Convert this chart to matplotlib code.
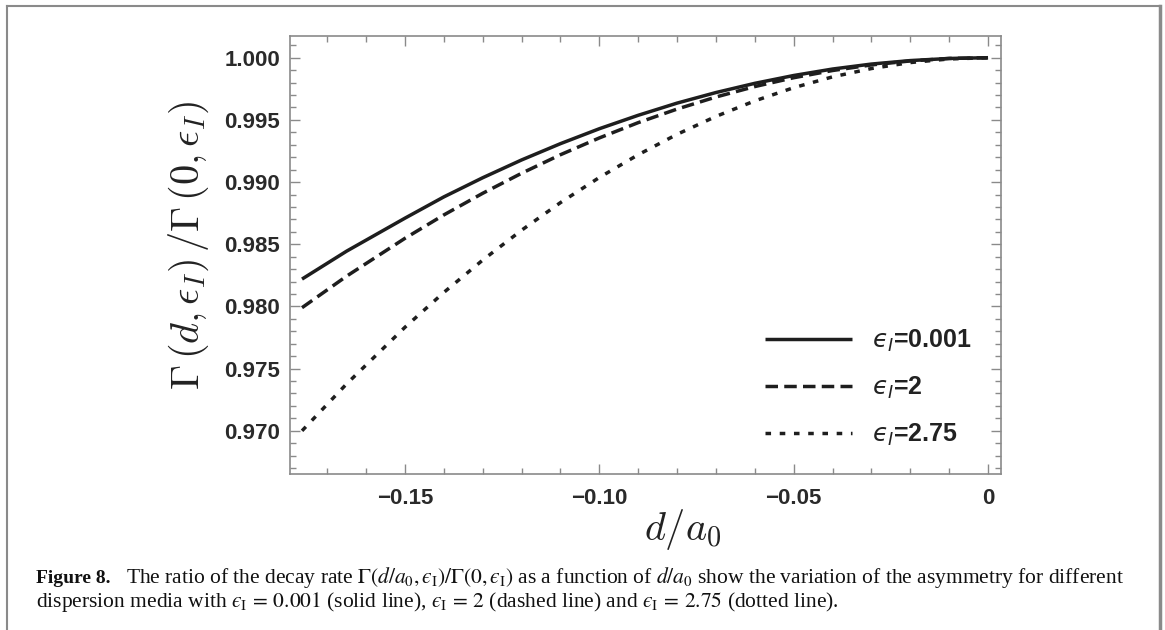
import numpy as np
import matplotlib
matplotlib.use("Agg")
import matplotlib.pyplot as plt
from matplotlib.ticker import MultipleLocator, FixedLocator, FuncFormatter, FormatStrFormatter
from matplotlib.lines import Line2D

# values
d_vals = [-0.1765, -0.165, -0.15, -0.14, -0.13, -0.12, -0.11, -0.10, -0.09,
          -0.08, -0.07, -0.06, -0.05, -0.04, -0.03, -0.02, -0.01, 0.0]
ratio_eps_0001 = [0.9822, 0.98445, 0.9871, 0.98881, 0.99035, 0.99178, 0.99309, 0.99429, 0.99537,
                  0.99635, 0.9972, 0.99794, 0.99857, 0.99909, 0.99949, 0.99977, 0.99994, 1.0]
ratio_eps_2 = [0.9799, 0.98244, 0.98548, 0.98736, 0.9891, 0.99071, 0.9922, 0.99355, 0.99478,
               0.99587, 0.99684, 0.99768, 0.99839, 0.99897, 0.99942, 0.99974, 0.99994, 1.0]
ratio_eps_275 = [0.9700, 0.97378, 0.97833, 0.98113, 0.98373, 0.98613, 0.98835, 0.99037, 0.9922,
                 0.99384, 0.99528, 0.99653, 0.99759, 0.99846, 0.99913, 0.99961, 0.9999, 1.0]
labels = ["$\\mathit{\u03f5}_I$=0.001", "$\\mathit{\u03f5}_I$=2", "$\\mathit{\u03f5}_I$=2.75"]
x_major = [-0.15, -0.10, -0.05, 0.0]

plt.rcParams["mathtext.fontset"] = "cm"
plt.rcParams["font.family"] = ["Liberation Sans", "DejaVu Sans"]

W, H = 1165, 630
fig = plt.figure(figsize=(W / 100, H / 100), dpi=100)
fig.patch.set_facecolor("white")

# axes box in pixels
L, R, T, B = 289.7, 1001.0, 35.7, 473.7
ax = fig.add_axes([L / W, 1 - B / H, (R - L) / W, (B - T) / H])

lc = "#1e1e1e"
lw = 2.5
ax.plot(d_vals, ratio_eps_0001, color=lc, lw=lw, ls="-", label=labels[0], solid_capstyle="butt")
ax.plot(d_vals, ratio_eps_2, color=lc, lw=lw, ls=(0, (3.6, 1.8)), label=labels[1], dash_capstyle="butt")
ax.plot(d_vals, ratio_eps_275, color=lc, lw=lw, ls=(0, (1.6, 2.5)), label=labels[2], dash_capstyle="butt")

ax.set_xlim(-0.17967, 0.00334)
ax.set_ylim(0.96655, 1.00177)

ax.xaxis.set_major_locator(FixedLocator(x_major))
ax.xaxis.set_minor_locator(MultipleLocator(0.01))
ax.yaxis.set_major_locator(MultipleLocator(0.005))
ax.yaxis.set_minor_locator(MultipleLocator(0.001))
ax.xaxis.set_major_formatter(FuncFormatter(lambda v, p: "0" if abs(v) < 1e-9 else ("%.2f" % v).replace("-", "\u2212")))
ax.yaxis.set_major_formatter(FormatStrFormatter("%.3f"))

for s in ax.spines.values():
    s.set_color("#8a8a8a")
    s.set_linewidth(1.2)
ax.tick_params(which="both", direction="in", top=True, right=True, color="#8a8a8a", width=1.0)
ax.tick_params(which="major", length=7)
ax.tick_params(which="minor", length=4)
ax.tick_params(axis="x", which="major", pad=10, labelsize=16, labelcolor="#2a2a2a")
ax.tick_params(axis="y", which="major", pad=7, labelsize=16, labelcolor="#2a2a2a")
for t in ax.get_xticklabels() + ax.get_yticklabels():
    t.set_fontweight("bold")

ax.set_ylabel(r"$\Gamma\,(d,\epsilon_I)\,/\Gamma\,(0,\epsilon_I)$", fontsize=29, color="#222222", va="center")
ax.yaxis.set_label_coords((189 - L) / (R - L), 1 - (245.6 - T) / (B - T))
ax.set_xlabel(r"$d/a_0$", fontsize=29, color="#222222", va="top")
ax.xaxis.set_label_coords((683 - L) / (R - L), -(507 - B) / (B - T))

leg = ax.legend(loc="upper left", bbox_to_anchor=(765 / W, 1 - 328 / H), bbox_transform=fig.transFigure,
                frameon=False, handlelength=3.5, handletextpad=0.8, labelspacing=0.82,
                borderpad=0, borderaxespad=0,
                prop={"size": 18, "weight": "bold", "math_fontfamily": "dejavusans"})
for t in leg.get_texts():
    t.set_color("#222222")

# caption
eps = "\u03f5_{\\rm I}"
cap_kw = dict(family="Liberation Serif", va="baseline", color="#111111")
fig.text(36 / W, 1 - 583 / H, "Figure 8.", fontsize=14, fontweight="bold", **cap_kw)
fig.text(126 / W, 1 - 583 / H,
         "The ratio of the decay rate $\\Gamma(d/a_0," + eps + ")/\\Gamma(0," + eps + ")$ as a function of "
         "$d/a_0$ show the variation of the asymmetry for different",
         fontsize=15.5, math_fontfamily="stix", **cap_kw)
fig.text(36 / W, 1 - 607 / H,
         "dispersion media with $" + eps + "\\,=\\,0.001$ (solid line), $" + eps + "\\,=\\,2$ (dashed line) "
         "and $" + eps + "\\,=\\,2.75$ (dotted line).",
         fontsize=15.5, math_fontfamily="stix", **cap_kw)

# outer frame
fig.add_artist(Line2D([6.5 / W, 6.5 / W], [0, 1 - 5.5 / H], transform=fig.transFigure, color="#8a8a8a", lw=1.5))
fig.add_artist(Line2D([6.5 / W, 1160 / W], [1 - 5.5 / H, 1 - 5.5 / H], transform=fig.transFigure, color="#8a8a8a", lw=1.5))
fig.add_artist(Line2D([1160 / W, 1160 / W], [0, 1 - 5.5 / H], transform=fig.transFigure, color="#8a8a8a", lw=2.5))

fig.savefig("out.png", dpi=100)
